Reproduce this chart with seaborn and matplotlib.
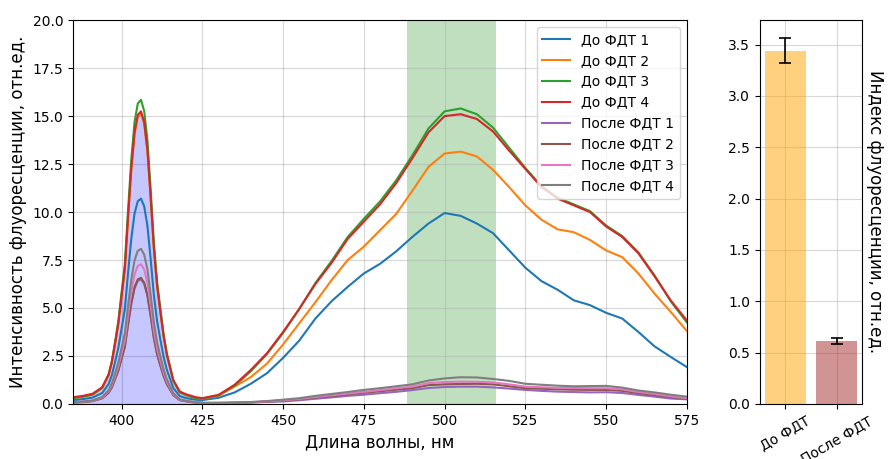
import numpy as np
import pandas as pd
import matplotlib
matplotlib.use("Agg")
import matplotlib.pyplot as plt
import seaborn as sns

wavelength = [385, 388, 391, 394, 396, 397, 398, 399, 400, 401, 402, 403, 404, 405, 406,
              407, 408, 409, 410, 411, 412, 413, 414, 416, 418, 420, 423, 425, 430, 435,
              440, 445, 450, 455, 460, 465, 470, 475, 480, 485, 490, 495, 500, 505, 510,
              515, 520, 525, 530, 535, 540, 545, 550, 555, 560, 565, 570, 575]

do_1 = [0.2, 0.25, 0.33, 0.57, 1.04, 1.51, 2.2, 2.93, 3.93, 4.93, 6.82, 8.6, 9.91, 10.56, 10.7,
        10.3, 9.28, 7.55, 5.66, 4.3, 3.35, 2.46, 1.78, 0.83, 0.41, 0.3, 0.22, 0.2, 0.32, 0.6,
        1.05, 1.6, 2.4, 3.3, 4.45, 5.35, 6.1, 6.8, 7.3, 7.95, 8.7, 9.4, 9.95, 9.8, 9.4,
        8.9, 8.0, 7.1, 6.4, 5.95, 5.4, 5.15, 4.75, 4.45, 3.75, 3.0, 2.45, 1.92]
do_2 = [0.3, 0.37, 0.48, 0.82, 1.49, 2.16, 3.12, 4.16, 5.57, 6.98, 9.66, 12.18, 14.04, 14.96, 15.15,
        14.59, 13.15, 10.7, 8.02, 6.09, 4.76, 3.49, 2.53, 1.19, 0.6, 0.45, 0.3, 0.28, 0.42, 0.9,
        1.4, 2.1, 3.1, 4.2, 5.3, 6.45, 7.5, 8.2, 9.05, 9.9, 11.1, 12.35, 13.05, 13.15, 12.9,
        12.2, 11.3, 10.35, 9.6, 9.1, 8.95, 8.55, 8.0, 7.65, 6.8, 5.75, 4.8, 3.8]
do_3 = [0.3, 0.38, 0.49, 0.84, 1.54, 2.24, 3.25, 4.34, 5.82, 7.3, 10.1, 12.74, 14.68, 15.65, 15.85,
        15.26, 13.75, 11.19, 8.39, 6.36, 4.97, 3.64, 2.63, 1.23, 0.61, 0.46, 0.3, 0.28, 0.45, 0.95,
        1.7, 2.6, 3.7, 4.95, 6.3, 7.45, 8.7, 9.65, 10.55, 11.65, 12.95, 14.35, 15.25, 15.4, 15.1,
        14.4, 13.35, 12.3, 11.35, 10.75, 10.4, 10.05, 9.3, 8.75, 7.9, 6.7, 5.35, 4.25]
do_4 = [0.35, 0.42, 0.53, 0.87, 1.54, 2.21, 3.18, 4.22, 5.64, 7.06, 9.74, 12.27, 14.13, 15.06, 15.25,
        14.68, 13.24, 10.78, 8.1, 6.16, 4.82, 3.55, 2.59, 1.24, 0.65, 0.5, 0.35, 0.3, 0.47, 1.0,
        1.77, 2.64, 3.75, 4.95, 6.25, 7.35, 8.6, 9.5, 10.4, 11.5, 12.8, 14.15, 15.0, 15.1, 14.85,
        14.2, 13.2, 12.25, 11.3, 10.7, 10.35, 10.0, 9.25, 8.7, 7.85, 6.65, 5.4, 4.35]
posle_1 = [0.07, 0.1, 0.15, 0.29, 0.58, 0.87, 1.29, 1.74, 2.35, 2.96, 4.11, 5.21, 6.01, 6.41, 6.49,
           6.25, 5.62, 4.56, 3.41, 2.57, 1.99, 1.45, 1.03, 0.46, 0.2, 0.13, 0.07, 0.04, 0.04, 0.05,
           0.07, 0.1, 0.13, 0.19, 0.27, 0.34, 0.42, 0.48, 0.56, 0.63, 0.72, 0.83, 0.88, 0.9, 0.9,
           0.86, 0.8, 0.73, 0.68, 0.64, 0.62, 0.6, 0.61, 0.57, 0.47, 0.38, 0.28, 0.24]
posle_2 = [0.07, 0.1, 0.15, 0.3, 0.59, 0.88, 1.31, 1.76, 2.38, 3.0, 4.17, 5.27, 6.08, 6.49, 6.57,
           6.32, 5.69, 4.62, 3.45, 2.61, 2.02, 1.47, 1.05, 0.46, 0.2, 0.14, 0.07, 0.05, 0.05, 0.06,
           0.08, 0.12, 0.17, 0.24, 0.33, 0.41, 0.5, 0.58, 0.66, 0.74, 0.82, 0.98, 1.02, 1.04, 1.05,
           1.02, 0.92, 0.82, 0.79, 0.76, 0.74, 0.73, 0.73, 0.68, 0.56, 0.46, 0.36, 0.27]
posle_3 = [0.08, 0.12, 0.17, 0.33, 0.66, 0.98, 1.45, 1.95, 2.64, 3.32, 4.62, 5.84, 6.74, 7.19, 7.28,
           7.01, 6.31, 5.12, 3.82, 2.89, 2.24, 1.63, 1.16, 0.51, 0.22, 0.15, 0.08, 0.05, 0.05, 0.07,
           0.09, 0.13, 0.19, 0.26, 0.36, 0.45, 0.54, 0.63, 0.72, 0.82, 0.9, 1.08, 1.14, 1.16, 1.15,
           1.12, 1.02, 0.9, 0.87, 0.84, 0.83, 0.82, 0.82, 0.76, 0.62, 0.52, 0.4, 0.3]
posle_4 = [0.08, 0.12, 0.18, 0.36, 0.72, 1.08, 1.6, 2.16, 2.92, 3.68, 5.12, 6.48, 7.48, 7.98, 8.08,
           7.78, 7.0, 5.68, 4.24, 3.2, 2.48, 1.8, 1.28, 0.56, 0.24, 0.16, 0.08, 0.06, 0.06, 0.08,
           0.1, 0.15, 0.22, 0.3, 0.42, 0.52, 0.62, 0.73, 0.82, 0.92, 1.02, 1.22, 1.33, 1.39, 1.38,
           1.3, 1.2, 1.05, 1.0, 0.95, 0.92, 0.93, 0.94, 0.85, 0.7, 0.6, 0.48, 0.38]

series_names = ["До ФДТ 1", "До ФДТ 2", "До ФДТ 3", "До ФДТ 4",
                "После ФДТ 1", "После ФДТ 2", "После ФДТ 3", "После ФДТ 4"]
series_values = [do_1, do_2, do_3, do_4, posle_1, posle_2, posle_3, posle_4]

bar_labels = ["До ФДТ", "После ФДТ"]
bar_means = [3.44, 0.61]
bar_errors = [0.12, 0.03]
bar_colors = ["orange", "brown"]

# long-form table
rows = []
for name, vals in zip(series_names, series_values):
    for w, v in zip(wavelength, vals):
        rows.append((w, v, name))
df = pd.DataFrame(rows, columns=["wl", "val", "series"])

fig = plt.figure(figsize=(8.92, 4.59), dpi=100)
ax = fig.add_axes([0.082, 0.12, 0.688, 0.836])
ax2 = fig.add_axes([0.852, 0.12, 0.114, 0.836])

palette = sns.color_palette("tab10", 8)
ax.axvspan(488.5, 516, color="green", alpha=0.25, lw=0, zorder=0)
wl_arr = np.array(wavelength)
mask = wl_arr <= 425
ax.fill_between(wl_arr[mask], 0, np.array(do_4)[mask], color="blue", alpha=0.22, lw=0, zorder=1)

sns.lineplot(data=df, x="wl", y="val", hue="series", hue_order=series_names,
             palette=palette, linewidth=1.5, ax=ax, zorder=2)
ax.set_xlim(385, 575)
ax.set_ylim(0, 20)
ax.set_xlabel("Длина волны, нм", fontsize=12)
ax.set_ylabel("Интенсивность флуоресценции, отн.ед.", fontsize=12)
ax.grid(True, alpha=0.5)
ax.set_axisbelow(True)
sns.move_legend(ax, "upper right", title=None, fontsize=10)

bdf = pd.DataFrame({"label": bar_labels, "mean": bar_means})
sns.barplot(data=bdf, x="label", y="mean", hue="label", palette=bar_colors,
            alpha=0.5, saturation=1, ax=ax2, legend=False, width=0.8)
ax2.errorbar(range(len(bar_labels)), bar_means, yerr=bar_errors, fmt="none",
             ecolor="black", capsize=4, elinewidth=1.2, capthick=1.2)
ax2.set_xlabel("")
ax2.yaxis.set_label_position("right")
ax2.set_ylabel("Индекс флуоресценции, отн.ед.", fontsize=12, rotation=270, labelpad=16)
ax2.set_yticks([0, 0.5, 1.0, 1.5, 2.0, 2.5, 3.0, 3.5])
ax2.tick_params(axis="x", rotation=30)
ax2.grid(True, alpha=0.5)
ax2.set_axisbelow(True)

fig.savefig("out.png", dpi=100)
